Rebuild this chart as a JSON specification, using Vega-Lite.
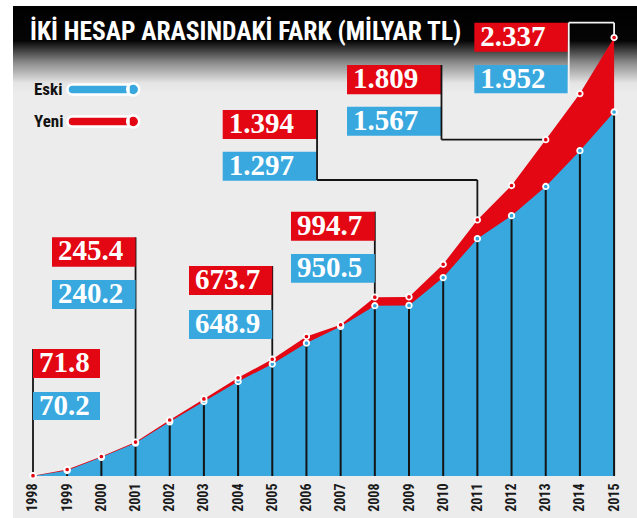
{
  "$schema": "https://vega.github.io/schema/vega-lite/v6.json",
  "width": 624,
  "height": 512,
  "autosize": {"type": "none"},
  "padding": {"left": 13, "top": 6, "right": 0, "bottom": 0},
  "background": "white",
  "view": {
    "stroke": null,
    "fill": {
      "gradient": "linear", "x1": 0, "y1": 0, "x2": 0, "y2": 1,
      "stops": [
        {"offset": 0, "color": "#000000"},
        {"offset": 0.068, "color": "#050505"},
        {"offset": 0.11, "color": "#8a8a8a"},
        {"offset": 0.15, "color": "#e4e4e4"},
        {"offset": 0.17, "color": "#ececec"},
        {"offset": 1, "color": "#ececec"}
      ]
    }
  },
  "title": {
    "text": "İKİ HESAP ARASINDAKİ FARK (MİLYAR TL)",
    "anchor": "start",
    "frame": "group",
    "orient": "top",
    "offset": -39,
    "dx": 17,
    "color": "white",
    "font": "Roboto Condensed, Roboto, sans-serif",
    "fontSize": 25.5,
    "fontWeight": "bold"
  },
  "datasets": {
    "main": [
      {"year": 1998, "seri": "Eski", "value": 70.2},
      {"year": 1999, "seri": "Eski", "value": 98.6},
      {"year": 2000, "seri": "Eski", "value": 166.7},
      {"year": 2001, "seri": "Eski", "value": 240.2},
      {"year": 2002, "seri": "Eski", "value": 350.3},
      {"year": 2003, "seri": "Eski", "value": 455.3},
      {"year": 2004, "seri": "Eski", "value": 558.7},
      {"year": 2005, "seri": "Eski", "value": 648.9},
      {"year": 2006, "seri": "Eski", "value": 757.5},
      {"year": 2007, "seri": "Eski", "value": 843.3},
      {"year": 2008, "seri": "Eski", "value": 950.5},
      {"year": 2009, "seri": "Eski", "value": 952},
      {"year": 2010, "seri": "Eski", "value": 1096},
      {"year": 2011, "seri": "Eski", "value": 1297},
      {"year": 2012, "seri": "Eski", "value": 1416},
      {"year": 2013, "seri": "Eski", "value": 1567},
      {"year": 2014, "seri": "Eski", "value": 1752},
      {"year": 2015, "seri": "Eski", "value": 1952},
      {"year": 1998, "seri": "Yeni", "value": 71.8},
      {"year": 1999, "seri": "Yeni", "value": 103.7},
      {"year": 2000, "seri": "Yeni", "value": 171.1},
      {"year": 2001, "seri": "Yeni", "value": 245.4},
      {"year": 2002, "seri": "Yeni", "value": 359.6},
      {"year": 2003, "seri": "Yeni", "value": 468.6},
      {"year": 2004, "seri": "Yeni", "value": 577.6},
      {"year": 2005, "seri": "Yeni", "value": 673.7},
      {"year": 2006, "seri": "Yeni", "value": 791.3},
      {"year": 2007, "seri": "Yeni", "value": 852},
      {"year": 2008, "seri": "Yeni", "value": 994.7},
      {"year": 2009, "seri": "Yeni", "value": 996},
      {"year": 2010, "seri": "Yeni", "value": 1165},
      {"year": 2011, "seri": "Yeni", "value": 1394},
      {"year": 2012, "seri": "Yeni", "value": 1572},
      {"year": 2013, "seri": "Yeni", "value": 1809},
      {"year": 2014, "seri": "Yeni", "value": 2047},
      {"year": 2015, "seri": "Yeni", "value": 2337}
    ],
    "notes": [
      {"year": 1998, "yeni": 71.8, "yeniLbl": "71.8", "eskiLbl": "70.2", "left": 1998, "right": 1999.96, "redTop": 726.8, "redBot": 576.9, "blueTop": 504.5, "blueBot": 359.7, "via": 1998, "start": 726.8, "elbow": 726.8},
      {"year": 2001, "yeni": 245.4, "yeniLbl": "245.4", "eskiLbl": "240.2", "left": 1998.556, "right": 2001, "redTop": 1304.3, "redBot": 1152.3, "blueTop": 1083.5, "blueBot": 933.6, "via": 2001, "start": 1304.3, "elbow": 1304.3},
      {"year": 2005, "yeni": 673.7, "yeniLbl": "673.7", "eskiLbl": "648.9", "left": 2002.564, "right": 2005, "redTop": 1155.9, "redBot": 1006.0, "blueTop": 928.4, "blueBot": 778.5, "via": 2005, "start": 1155.9, "elbow": 1155.9},
      {"year": 2008, "yeni": 994.7, "yeniLbl": "994.7", "eskiLbl": "950.5", "left": 2005.548, "right": 2008, "redTop": 1436.6, "redBot": 1286.7, "blueTop": 1218.0, "blueBot": 1069.6, "via": 2008, "start": 1436.6, "elbow": 1436.6},
      {"year": 2011, "yeni": 1394, "yeniLbl": "1.394", "eskiLbl": "1.297", "left": 2003.55, "right": 2006.30, "redTop": 1962.4, "redBot": 1812.5, "blueTop": 1746.8, "blueBot": 1596.9, "via": 2006.31, "start": 1962.4, "elbow": 1600.5},
      {"year": 2013, "yeni": 1809, "yeniLbl": "1.809", "eskiLbl": "1.567", "left": 2007.187, "right": 2009.95, "redTop": 2195.1, "redBot": 2043.6, "blueTop": 1979.5, "blueBot": 1829.5, "via": 2009.95, "start": 2195.1, "elbow": 1809},
      {"year": 2015, "yeni": 2337, "yeniLbl": "2.337", "eskiLbl": "1.952", "left": 2010.911, "right": 2013.644, "redTop": 2413.8, "redBot": 2263.8, "blueTop": 2195.1, "blueBot": 2048.7, "via": 2013.673, "start": 2048.7, "elbow": 2413.8}
    ]
  },
  "encoding": {
    "x": {
      "field": "year", "type": "quantitative",
      "scale": {"domain": [1997.415, 2015.67], "nice": false, "zero": false},
      "axis": {
        "values": [1998, 1999, 2000, 2001, 2002, 2003, 2004, 2005, 2006, 2007, 2008, 2009, 2010, 2011, 2012, 2013, 2014, 2015],
        "format": "d", "title": null, "offset": -42,
        "labelAngle": 270, "labelAlign": "right", "labelBaseline": "middle",
        "labelPadding": 7, "labelFont": "Roboto Condensed, Roboto, sans-serif",
        "labelFontSize": 14, "labelFontWeight": "bold", "labelColor": "#1a1a1a",
        "labelOverlap": false, "domain": false, "ticks": false, "grid": false, "zindex": 1
      }
    },
    "y": {
      "field": "value", "type": "quantitative",
      "scale": {"domain": [-147, 2500], "nice": false, "zero": false},
      "axis": null
    }
  },
  "layer": [
    {
      "data": {"name": "main"},
      "transform": [{"filter": "datum.seri === 'Yeni'"}],
      "mark": {"type": "area", "color": "#e30613", "interpolate": "linear"},
      "encoding": {"y2": {"datum": 70.2}}
    },
    {
      "data": {"name": "main"},
      "transform": [{"filter": "datum.seri === 'Eski'"}],
      "mark": {"type": "area", "color": "#38a8df", "interpolate": "linear"},
      "encoding": {"y2": {"datum": 70.2}}
    },
    {
      "data": {"name": "main"},
      "transform": [{"filter": "datum.seri === 'Eski'"}],
      "mark": {"type": "rule", "color": "#141414", "strokeWidth": 2},
      "encoding": {"y2": {"datum": 70.2}}
    },
    {
      "data": {"name": "notes"},
      "mark": {"type": "rule", "strokeWidth": 1.8},
      "encoding": {
        "x2": {"field": "via"},
        "y": {"field": "elbow", "type": "quantitative"},
        "color": {"condition": {"test": "datum.year === 2015", "value": "#f4f4f4"}, "value": "#141414"}
      }
    },
    {
      "data": {"name": "notes"},
      "mark": {"type": "rule", "strokeWidth": 1.8},
      "encoding": {
        "y": {"field": "elbow", "type": "quantitative"},
        "y2": {"field": "yeni"},
        "color": {"condition": {"test": "datum.year === 2015", "value": "#f4f4f4"}, "value": "#141414"}
      }
    },
    {
      "data": {"name": "main"},
      "mark": {"type": "point", "filled": true, "size": 30, "stroke": "white", "strokeWidth": 1.8, "opacity": 1},
      "encoding": {
        "color": {
          "field": "seri", "type": "nominal",
          "scale": {"domain": ["Eski", "Yeni"], "range": ["#38a8df", "#e30613"]},
          "legend": {
            "title": null,
            "orient": "none",
            "legendX": -6,
            "legendY": 72,
            "padding": 0,
            "symbolType": "M5.4,-0.5 L11,-0.5 L11,0.5 L5.4,0.5 A0.5,0.5 0 0 1 5.4,-0.5 Z M10.87,0 A0.6,0.6 0 1 0 12.07,0 A0.6,0.6 0 1 0 10.87,0 Z",
            "symbolSize": 400,
            "symbolStrokeColor": "white",
            "symbolStrokeWidth": 2.5,
            "symbolOpacity": 1,
            "labelOffset": 4,
            "rowPadding": 9,
            "labelFont": "Roboto Condensed, Roboto, sans-serif",
            "labelFontSize": 17,
            "labelFontWeight": "bold",
            "labelColor": "#111111"
          }
        }
      }
    },
    {
      "data": {"name": "notes"},
      "mark": {"type": "rect", "color": "#e30613"},
      "encoding": {
        "x": {"field": "left", "type": "quantitative", "axis": {"values": [1998, 1999, 2000, 2001, 2002, 2003, 2004, 2005, 2006, 2007, 2008, 2009, 2010, 2011, 2012, 2013, 2014, 2015], "format": "d", "title": null, "offset": -42, "labelAngle": 270, "labelAlign": "right", "labelBaseline": "middle", "labelPadding": 7, "labelFont": "Roboto Condensed, Roboto, sans-serif", "labelFontSize": 14, "labelFontWeight": "bold", "labelColor": "#1a1a1a", "labelOverlap": false, "domain": false, "ticks": false, "grid": false, "zindex": 1}},
        "x2": {"field": "right"},
        "y": {"field": "redTop", "type": "quantitative"},
        "y2": {"field": "redBot"}
      }
    },
    {
      "data": {"name": "notes"},
      "mark": {"type": "rect", "color": "#38a8df"},
      "encoding": {
        "x": {"field": "left", "type": "quantitative", "axis": {"values": [1998, 1999, 2000, 2001, 2002, 2003, 2004, 2005, 2006, 2007, 2008, 2009, 2010, 2011, 2012, 2013, 2014, 2015], "format": "d", "title": null, "offset": -42, "labelAngle": 270, "labelAlign": "right", "labelBaseline": "middle", "labelPadding": 7, "labelFont": "Roboto Condensed, Roboto, sans-serif", "labelFontSize": 14, "labelFontWeight": "bold", "labelColor": "#1a1a1a", "labelOverlap": false, "domain": false, "ticks": false, "grid": false, "zindex": 1}},
        "x2": {"field": "right"},
        "y": {"field": "blueTop", "type": "quantitative"},
        "y2": {"field": "blueBot"}
      }
    },
    {
      "data": {"name": "notes"},
      "mark": {"type": "rule", "strokeWidth": 1.8},
      "encoding": {
        "x": {"field": "via", "type": "quantitative", "axis": {"values": [1998, 1999, 2000, 2001, 2002, 2003, 2004, 2005, 2006, 2007, 2008, 2009, 2010, 2011, 2012, 2013, 2014, 2015], "format": "d", "title": null, "offset": -42, "labelAngle": 270, "labelAlign": "right", "labelBaseline": "middle", "labelPadding": 7, "labelFont": "Roboto Condensed, Roboto, sans-serif", "labelFontSize": 14, "labelFontWeight": "bold", "labelColor": "#1a1a1a", "labelOverlap": false, "domain": false, "ticks": false, "grid": false, "zindex": 1}},
        "y": {"field": "start", "type": "quantitative"},
        "y2": {"field": "elbow"},
        "color": {"condition": {"test": "datum.year === 2015", "value": "#f4f4f4"}, "value": "#141414"}
      }
    },
    {
      "data": {"name": "notes"},
      "mark": {"type": "text", "align": "left", "baseline": "top", "dx": 6, "font": "Liberation Serif, DejaVu Serif, serif", "fontSize": 29, "fontWeight": "bold", "color": "white"},
      "encoding": {
        "x": {"field": "left", "type": "quantitative", "axis": {"values": [1998, 1999, 2000, 2001, 2002, 2003, 2004, 2005, 2006, 2007, 2008, 2009, 2010, 2011, 2012, 2013, 2014, 2015], "format": "d", "title": null, "offset": -42, "labelAngle": 270, "labelAlign": "right", "labelBaseline": "middle", "labelPadding": 7, "labelFont": "Roboto Condensed, Roboto, sans-serif", "labelFontSize": 14, "labelFontWeight": "bold", "labelColor": "#1a1a1a", "labelOverlap": false, "domain": false, "ticks": false, "grid": false, "zindex": 1}},
        "y": {"field": "redTop", "type": "quantitative"},
        "text": {"field": "yeniLbl"}
      }
    },
    {
      "data": {"name": "notes"},
      "mark": {"type": "text", "align": "left", "baseline": "top", "dx": 6, "font": "Liberation Serif, DejaVu Serif, serif", "fontSize": 29, "fontWeight": "bold", "color": "white"},
      "encoding": {
        "x": {"field": "left", "type": "quantitative", "axis": {"values": [1998, 1999, 2000, 2001, 2002, 2003, 2004, 2005, 2006, 2007, 2008, 2009, 2010, 2011, 2012, 2013, 2014, 2015], "format": "d", "title": null, "offset": -42, "labelAngle": 270, "labelAlign": "right", "labelBaseline": "middle", "labelPadding": 7, "labelFont": "Roboto Condensed, Roboto, sans-serif", "labelFontSize": 14, "labelFontWeight": "bold", "labelColor": "#1a1a1a", "labelOverlap": false, "domain": false, "ticks": false, "grid": false, "zindex": 1}},
        "y": {"field": "blueTop", "type": "quantitative"},
        "text": {"field": "eskiLbl"}
      }
    }
  ]
}
